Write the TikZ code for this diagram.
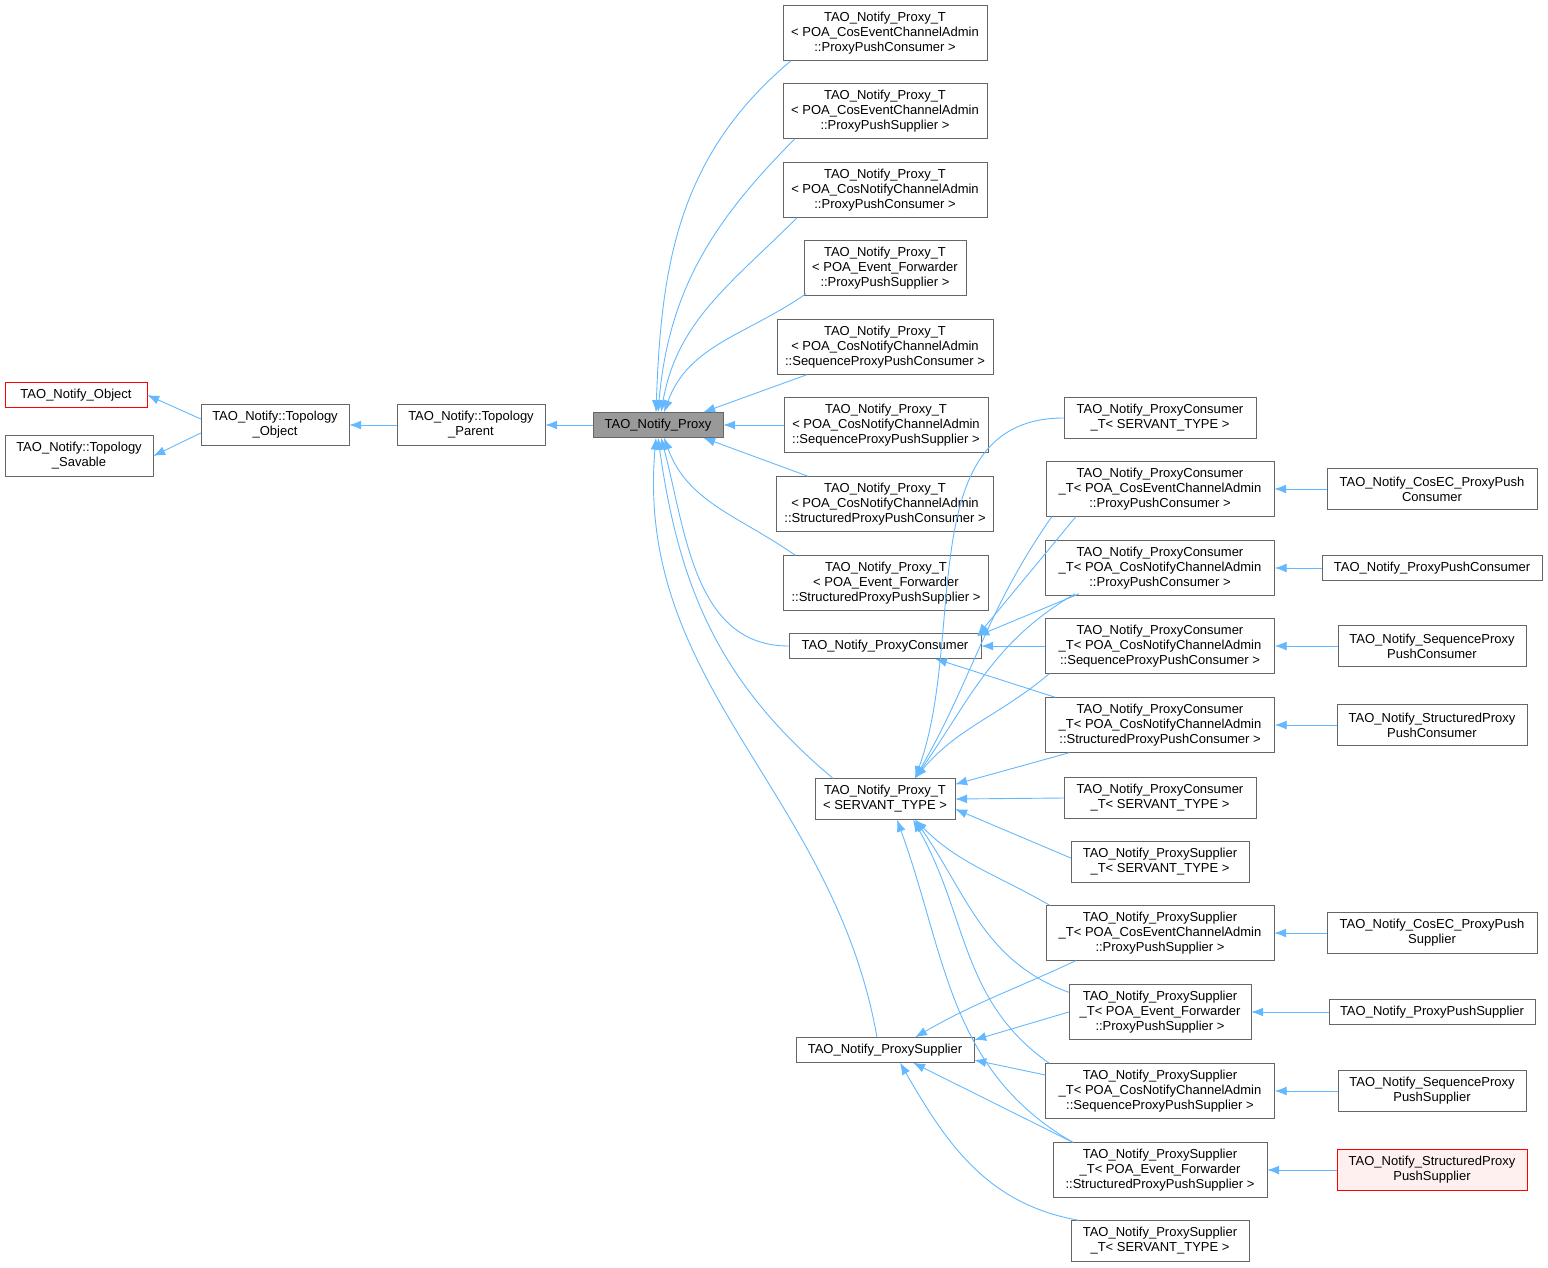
\documentclass[tikz,border=0pt]{standalone}
\usepackage{fontspec}
\setmainfont{Liberation Sans}
\usetikzlibrary{arrows.meta,positioning,calc}
\definecolor{edgeblue}{RGB}{99,184,255}
\definecolor{boxgray}{RGB}{102,102,102}
\definecolor{pinkfill}{RGB}{255,240,240}
\tikzset{
 	cls/.style= {draw=boxgray, rectangle, align=center, fill=white, inner xsep=8pt, inner ysep=2pt, minimum height=25pt, font=\fontsize{13}{15}\selectfont},
 	clsii/.style= {cls, minimum height=41pt},
 	clsiii/.style= {cls, minimum height=55pt},
 	current/.style= {fill=gray!80},
 	redcls/.style= {draw=red},
 	inh/.style= {draw=edgeblue, line width=0.9pt, -{Latex[length=12pt,width=9pt]}}
 }
\begin{document}
\begin{tikzpicture}[x=1pt,y=-1pt]
    \useasboundingbox (0,0) rectangle (1548,1267);

%%%%%%%%%%%%%%%%%%%%% Nodes %%%%%%%%%%%%%%%%%%%%%
    \node [cls, redcls, minimum width=142pt] (obj) at (76,395) {TAO\_Notify\_Object};
    \node [clsii, minimum width=148pt] (sav) at (79,456) {TAO\_Notify::Topology\\\_Savable};
    \node [clsii, minimum width=148pt] (tobj) at (275,425) {TAO\_Notify::Topology\\\_Object};
    \node [clsii, minimum width=148pt] (tpar) at (471,425) {TAO\_Notify::Topology\\\_Parent};
    \node [cls, current, minimum width=130pt] (proxy) at (658,425) {TAO\_Notify\_Proxy};

    \node [clsiii] (p1) at (885,33) {TAO\_Notify\_Proxy\_T\\< POA\_CosEventChannelAdmin\\::ProxyPushConsumer >};
    \node [clsiii] (p2) at (885,111) {TAO\_Notify\_Proxy\_T\\< POA\_CosEventChannelAdmin\\::ProxyPushSupplier >};
    \node [clsiii] (p3) at (885,190) {TAO\_Notify\_Proxy\_T\\< POA\_CosNotifyChannelAdmin\\::ProxyPushConsumer >};
    \node [clsiii] (p4) at (885,268) {TAO\_Notify\_Proxy\_T\\< POA\_Event\_Forwarder\\::ProxyPushSupplier >};
    \node [clsiii] (p5) at (885,347) {TAO\_Notify\_Proxy\_T\\< POA\_CosNotifyChannelAdmin\\::SequenceProxyPushConsumer >};
    \node [clsiii] (p6) at (886,425) {TAO\_Notify\_Proxy\_T\\< POA\_CosNotifyChannelAdmin\\::SequenceProxyPushSupplier >};
    \node [clsiii] (p7) at (885,504) {TAO\_Notify\_Proxy\_T\\< POA\_CosNotifyChannelAdmin\\::StructuredProxyPushConsumer >};
    \node [clsiii] (p8) at (886,583) {TAO\_Notify\_Proxy\_T\\< POA\_Event\_Forwarder\\::StructuredProxyPushSupplier >};
    \node [cls, minimum width=192pt] (pc) at (885,646) {TAO\_Notify\_ProxyConsumer};
    \node [clsii] (pt) at (885,799) {TAO\_Notify\_Proxy\_T\\< SERVANT\_TYPE >};
    \node [cls, minimum width=178pt] (ps) at (885,1050) {TAO\_Notify\_ProxySupplier};

    \node [clsii, minimum width=192pt] (c1) at (1160,418) {TAO\_Notify\_ProxyConsumer\\\_T< SERVANT\_TYPE >};
    \node [clsiii, minimum width=228pt] (c2) at (1160,489) {TAO\_Notify\_ProxyConsumer\\\_T< POA\_CosEventChannelAdmin\\::ProxyPushConsumer >};
    \node [clsiii, minimum width=229pt] (c3) at (1160,568) {TAO\_Notify\_ProxyConsumer\\\_T< POA\_CosNotifyChannelAdmin\\::ProxyPushConsumer >};
    \node [clsiii, minimum width=229pt] (c4) at (1160,646) {TAO\_Notify\_ProxyConsumer\\\_T< POA\_CosNotifyChannelAdmin\\::SequenceProxyPushConsumer >};
    \node [clsiii, minimum width=229pt] (c5) at (1160,725) {TAO\_Notify\_ProxyConsumer\\\_T< POA\_CosNotifyChannelAdmin\\::StructuredProxyPushConsumer >};
    \node [clsii, minimum width=192pt] (c6) at (1160,798) {TAO\_Notify\_ProxyConsumer\\\_T< SERVANT\_TYPE >};
    \node [clsii, minimum width=178pt] (s1) at (1160,862) {TAO\_Notify\_ProxySupplier\\\_T< SERVANT\_TYPE >};
    \node [clsiii, minimum width=228pt] (s2) at (1160,933) {TAO\_Notify\_ProxySupplier\\\_T< POA\_CosEventChannelAdmin\\::ProxyPushSupplier >};
    \node [clsiii, minimum width=182pt] (s3) at (1160,1012) {TAO\_Notify\_ProxySupplier\\\_T< POA\_Event\_Forwarder\\::ProxyPushSupplier >};
    \node [clsiii, minimum width=229pt] (s4) at (1160,1091) {TAO\_Notify\_ProxySupplier\\\_T< POA\_CosNotifyChannelAdmin\\::SequenceProxyPushSupplier >};
    \node [clsiii, minimum width=214pt] (s5) at (1160,1170) {TAO\_Notify\_ProxySupplier\\\_T< POA\_Event\_Forwarder\\::StructuredProxyPushSupplier >};
    \node [clsii, minimum width=178pt] (s6) at (1160,1241) {TAO\_Notify\_ProxySupplier\\\_T< SERVANT\_TYPE >};

    \node [clsii, minimum width=210pt] (d1) at (1432,489) {TAO\_Notify\_CosEC\_ProxyPush\\Consumer};
    \node [cls, minimum width=220pt] (d2) at (1432,568) {TAO\_Notify\_ProxyPushConsumer};
    \node [clsii, minimum width=188pt] (d3) at (1432,646) {TAO\_Notify\_SequenceProxy\\PushConsumer};
    \node [clsii, minimum width=190pt] (d4) at (1432,725) {TAO\_Notify\_StructuredProxy\\PushConsumer};
    \node [clsii, minimum width=210pt] (d5) at (1432,933) {TAO\_Notify\_CosEC\_ProxyPush\\Supplier};
    \node [cls, minimum width=206pt] (d6) at (1432,1012) {TAO\_Notify\_ProxyPushSupplier};
    \node [clsii, minimum width=188pt] (d7) at (1432,1091) {TAO\_Notify\_SequenceProxy\\PushSupplier};
    \node [clsii, redcls, fill=pinkfill, minimum width=190pt] (d8) at (1432,1170) {TAO\_Notify\_StructuredProxy\\PushSupplier};

%%%%%%%%%%%%%%%%%%%%% Links %%%%%%%%%%%%%%%%%%%%%
    \draw[inh] (tobj.west) ++(0,-6) -- (obj.east);
    \draw[inh] ($(tobj.west)+(0,8)$) -- (sav.east);
    \draw[inh] (tpar) -- (tobj);
    \draw[inh] (proxy) -- (tpar);

    \draw[inh] ($(p1.south west)+(8,0)$) to[out=-140,in=88] ($(proxy.north)+(-2,0)$);
    \draw[inh] ($(p2.south west)+(12,0)$) to[out=-135,in=85] ($(proxy.north)+(0,0)$);
    \draw[inh] ($(p3.south west)+(14,0)$) to[out=-135,in=80] ($(proxy.north)+(3,0)$);
    \draw[inh] ($(p4.south west)+(2,-2)$) to[out=-145,in=70] ($(proxy.north)+(6,0)$);
    \draw[inh] ($(p5.south west)+(30,0)$) -- ($(proxy.north east)+(-20,0)$);
    \draw[inh] (p6.west) -- (proxy.east);
    \draw[inh] ($(p7.north west)+(32,0)$) -- ($(proxy.south east)+(-20,0)$);
    \draw[inh] ($(p8.north west)+(12,0)$) to[out=145,in=-70] ($(proxy.south)+(6,0)$);
    \draw[inh] (pc.west) to[out=180,in=-75] ($(proxy.south)+(3,0)$);
    \draw[inh] ($(pt.north west)+(18,0)$) to[out=140,in=-82] ($(proxy.south)+(0,0)$);
    \draw[inh] ($(ps.north)+(-8,0)$) to[out=100,in=-95] ($(proxy.south)+(-2,0)$);

    \draw[inh] ($(c2.south west)+(30,0)$) -- ($(pc.east)+(-4,-10)$);
    \draw[inh] ($(c3.south west)+(34,-2)$) -- ($(pc.east)+(-4,-10)$);
    \draw[inh] (c4.west) -- (pc.east);
    \draw[inh] ($(c5.north west)+(10,0)$) -- ($(pc.south)+(50,0)$);

    \draw[inh] (c1.west) to[out=180,in=70] ($(pt.north)+(30,0)$);
    \draw[inh] ($(c2.south west)+(6,0)$) to[out=-125,in=60] ($(pt.north)+(30,0)$);
    \draw[inh] ($(c3.south west)+(30,-2)$) to[out=-150,in=55] ($(pt.north)+(30,0)$);
    \draw[inh] ($(c4.south west)+(4,0)$) to[out=-140,in=50] ($(pt.north)+(30,0)$);
    \draw[inh] ($(c5.south west)+(24,0)$) -- ($(pt.north east)+(0,6)$);
    \draw[inh] (c6.west) -- (pt.east);
    \draw[inh] ($(s1.west)+(0,-4)$) -- ($(pt.east)+(0,10)$);
    \draw[inh] ($(s2.north west)+(4,0)$) to[out=150,in=-45] ($(pt.south)+(30,0)$);
    \draw[inh] ($(s3.north west)+(0,8)$) to[out=160,in=-55] ($(pt.south)+(30,0)$);
    \draw[inh] ($(s4.north west)+(4,0)$) to[out=145,in=-60] ($(pt.south)+(28,0)$);
    \draw[inh] ($(s5.north west)+(20,0)$) to[out=150,in=-70] ($(pt.south)+(12,0)$);

    \draw[inh] ($(s2.south west)+(30,0)$) to[out=-155,in=30] ($(ps.north)+(30,0)$);
    \draw[inh] ($(s3.west)+(0,0)$) -- ($(ps.east)+(0,-10)$);
    \draw[inh] ($(s4.west)+(0,-16)$) -- ($(ps.east)+(0,10)$);
    \draw[inh] ($(s5.north west)+(20,0)$) -- ($(ps.south)+(28,0)$);
    \draw[inh] ($(s6.north west)+(8,0)$) to[out=170,in=-60] ($(ps.south)+(15,0)$);

    \draw[inh] (d1) -- (c2);
    \draw[inh] (d2) -- (c3);
    \draw[inh] (d3) -- (c4);
    \draw[inh] (d4) -- (c5);
    \draw[inh] (d5) -- (s2);
    \draw[inh] (d6) -- (s3);
    \draw[inh] (d7) -- (s4);
    \draw[inh] (d8) -- (s5);

\end{tikzpicture}
\end{document}
